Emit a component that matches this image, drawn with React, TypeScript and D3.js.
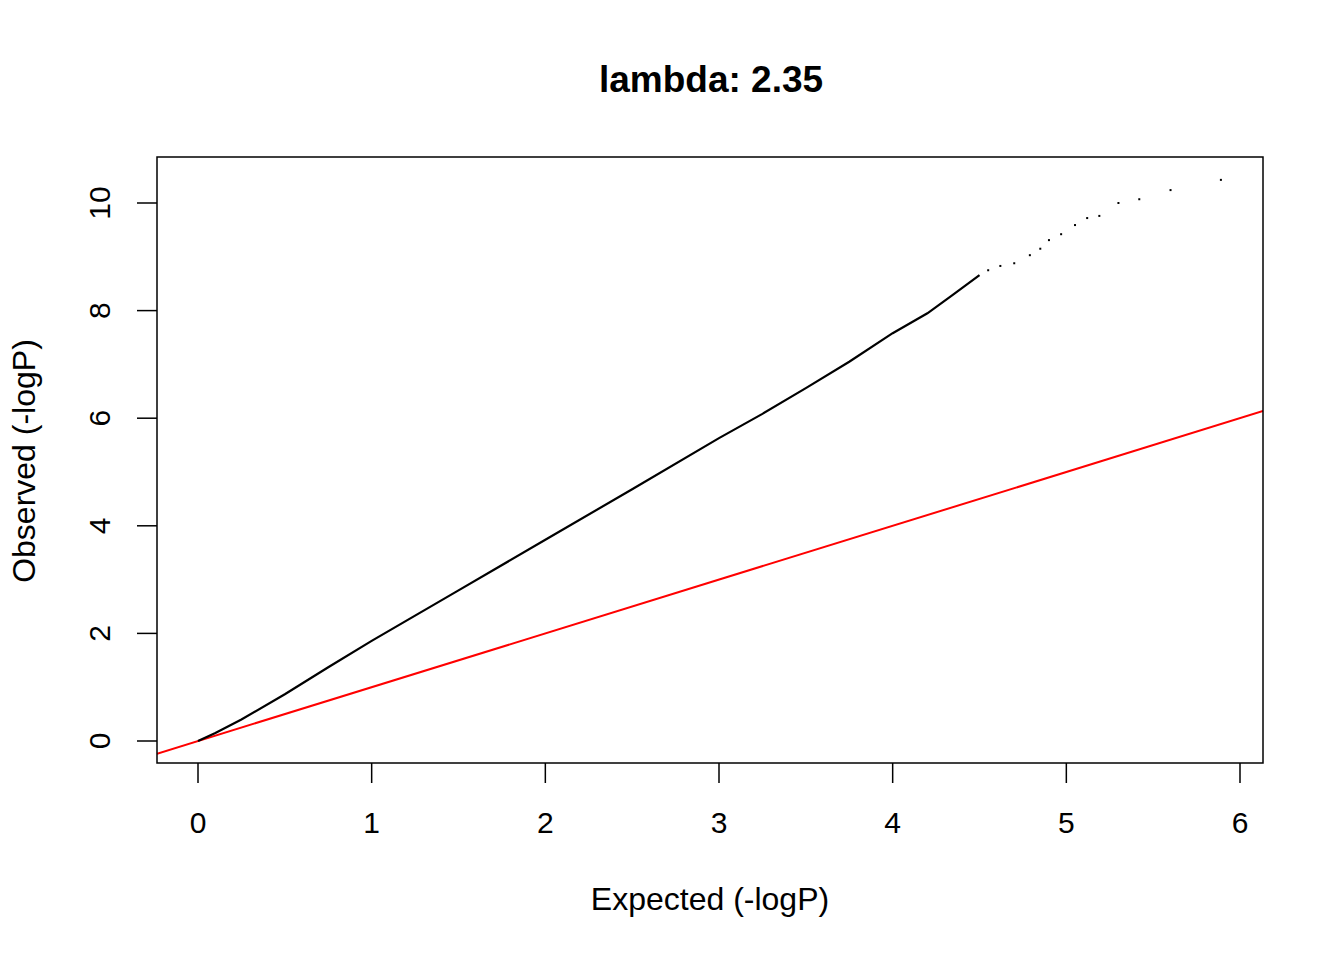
import React from "react";
import * as d3 from "d3";

const curveX = [0, 0.1, 0.25, 0.5, 0.75, 1, 1.5, 2, 2.5, 3, 3.25, 3.5, 3.75, 4, 4.2, 4.35, 4.5];
const curveY = [0, 0.15, 0.4, 0.87, 1.37, 1.86, 2.8, 3.74, 4.68, 5.63, 6.08, 6.56, 7.05, 7.58, 7.95, 8.3, 8.66];
const tailX = [4.55, 4.62, 4.7, 4.79, 4.85, 4.9, 4.97, 5.05, 5.12, 5.19, 5.3, 5.42, 5.6, 5.89];
const tailY = [8.75, 8.83, 8.88, 9.03, 9.15, 9.31, 9.42, 9.59, 9.72, 9.76, 10.0, 10.07, 10.24, 10.43];
const xTicks = [0, 1, 2, 3, 4, 5, 6];
const yTicks = [0, 2, 4, 6, 8, 10];

export default function App() {
  const L = 157, R = 1263, T = 157, B = 763;
  const x = d3.scaleLinear().domain([0, 6]).range([198, 1240]);
  const y = d3.scaleLinear().domain([0, 10]).range([741, 203]);
  const x0 = x.invert(L), x1 = x.invert(R);
  const line = d3.line<number>().x((_, i) => x(curveX[i])).y((_, i) => y(curveY[i]));
  const font = "Liberation Sans, Arial, sans-serif";
  return (
    <svg width={1344} height={960} style={{ position: "absolute", left: 0, top: 0, background: "#fff" }} fontFamily={font}>
      <text x={711} y={92} textAnchor="middle" fontSize={37} fontWeight="bold">lambda: 2.35</text>
      <defs><clipPath id="c"><rect x={L} y={T} width={R - L} height={B - T} /></clipPath></defs>
      <g clipPath="url(#c)">
        <line x1={x(x0)} y1={y(x0)} x2={x(x1)} y2={y(x1)} stroke="#ff0000" strokeWidth={2} />
        <path d={line(curveX) || ""} fill="none" stroke="#000" strokeWidth={2.2} />
        {tailX.map((v, i) => (
          <rect key={i} x={x(v) - 1} y={y(tailY[i]) - 1} width={2} height={2} fill="#000" />
        ))}
      </g>
      <rect x={L} y={T} width={R - L} height={B - T} fill="none" stroke="#000" strokeWidth={1.5} />
      {xTicks.map(t => (
        <g key={t}>
          <line x1={x(t)} x2={x(t)} y1={B} y2={B + 20} stroke="#000" strokeWidth={1.5} />
          <text x={x(t)} y={833} textAnchor="middle" fontSize={30}>{t}</text>
        </g>
      ))}
      {yTicks.map(t => (
        <g key={t}>
          <line x1={L} x2={L - 20} y1={y(t)} y2={y(t)} stroke="#000" strokeWidth={1.5} />
          <text transform={`translate(110,${y(t)}) rotate(-90)`} textAnchor="middle" fontSize={30}>{t}</text>
        </g>
      ))}
      <text x={710} y={910} textAnchor="middle" fontSize={32}>Expected (-logP)</text>
      <text transform="translate(35,461) rotate(-90)" textAnchor="middle" fontSize={32}>Observed (-logP)</text>
    </svg>
  );
}
